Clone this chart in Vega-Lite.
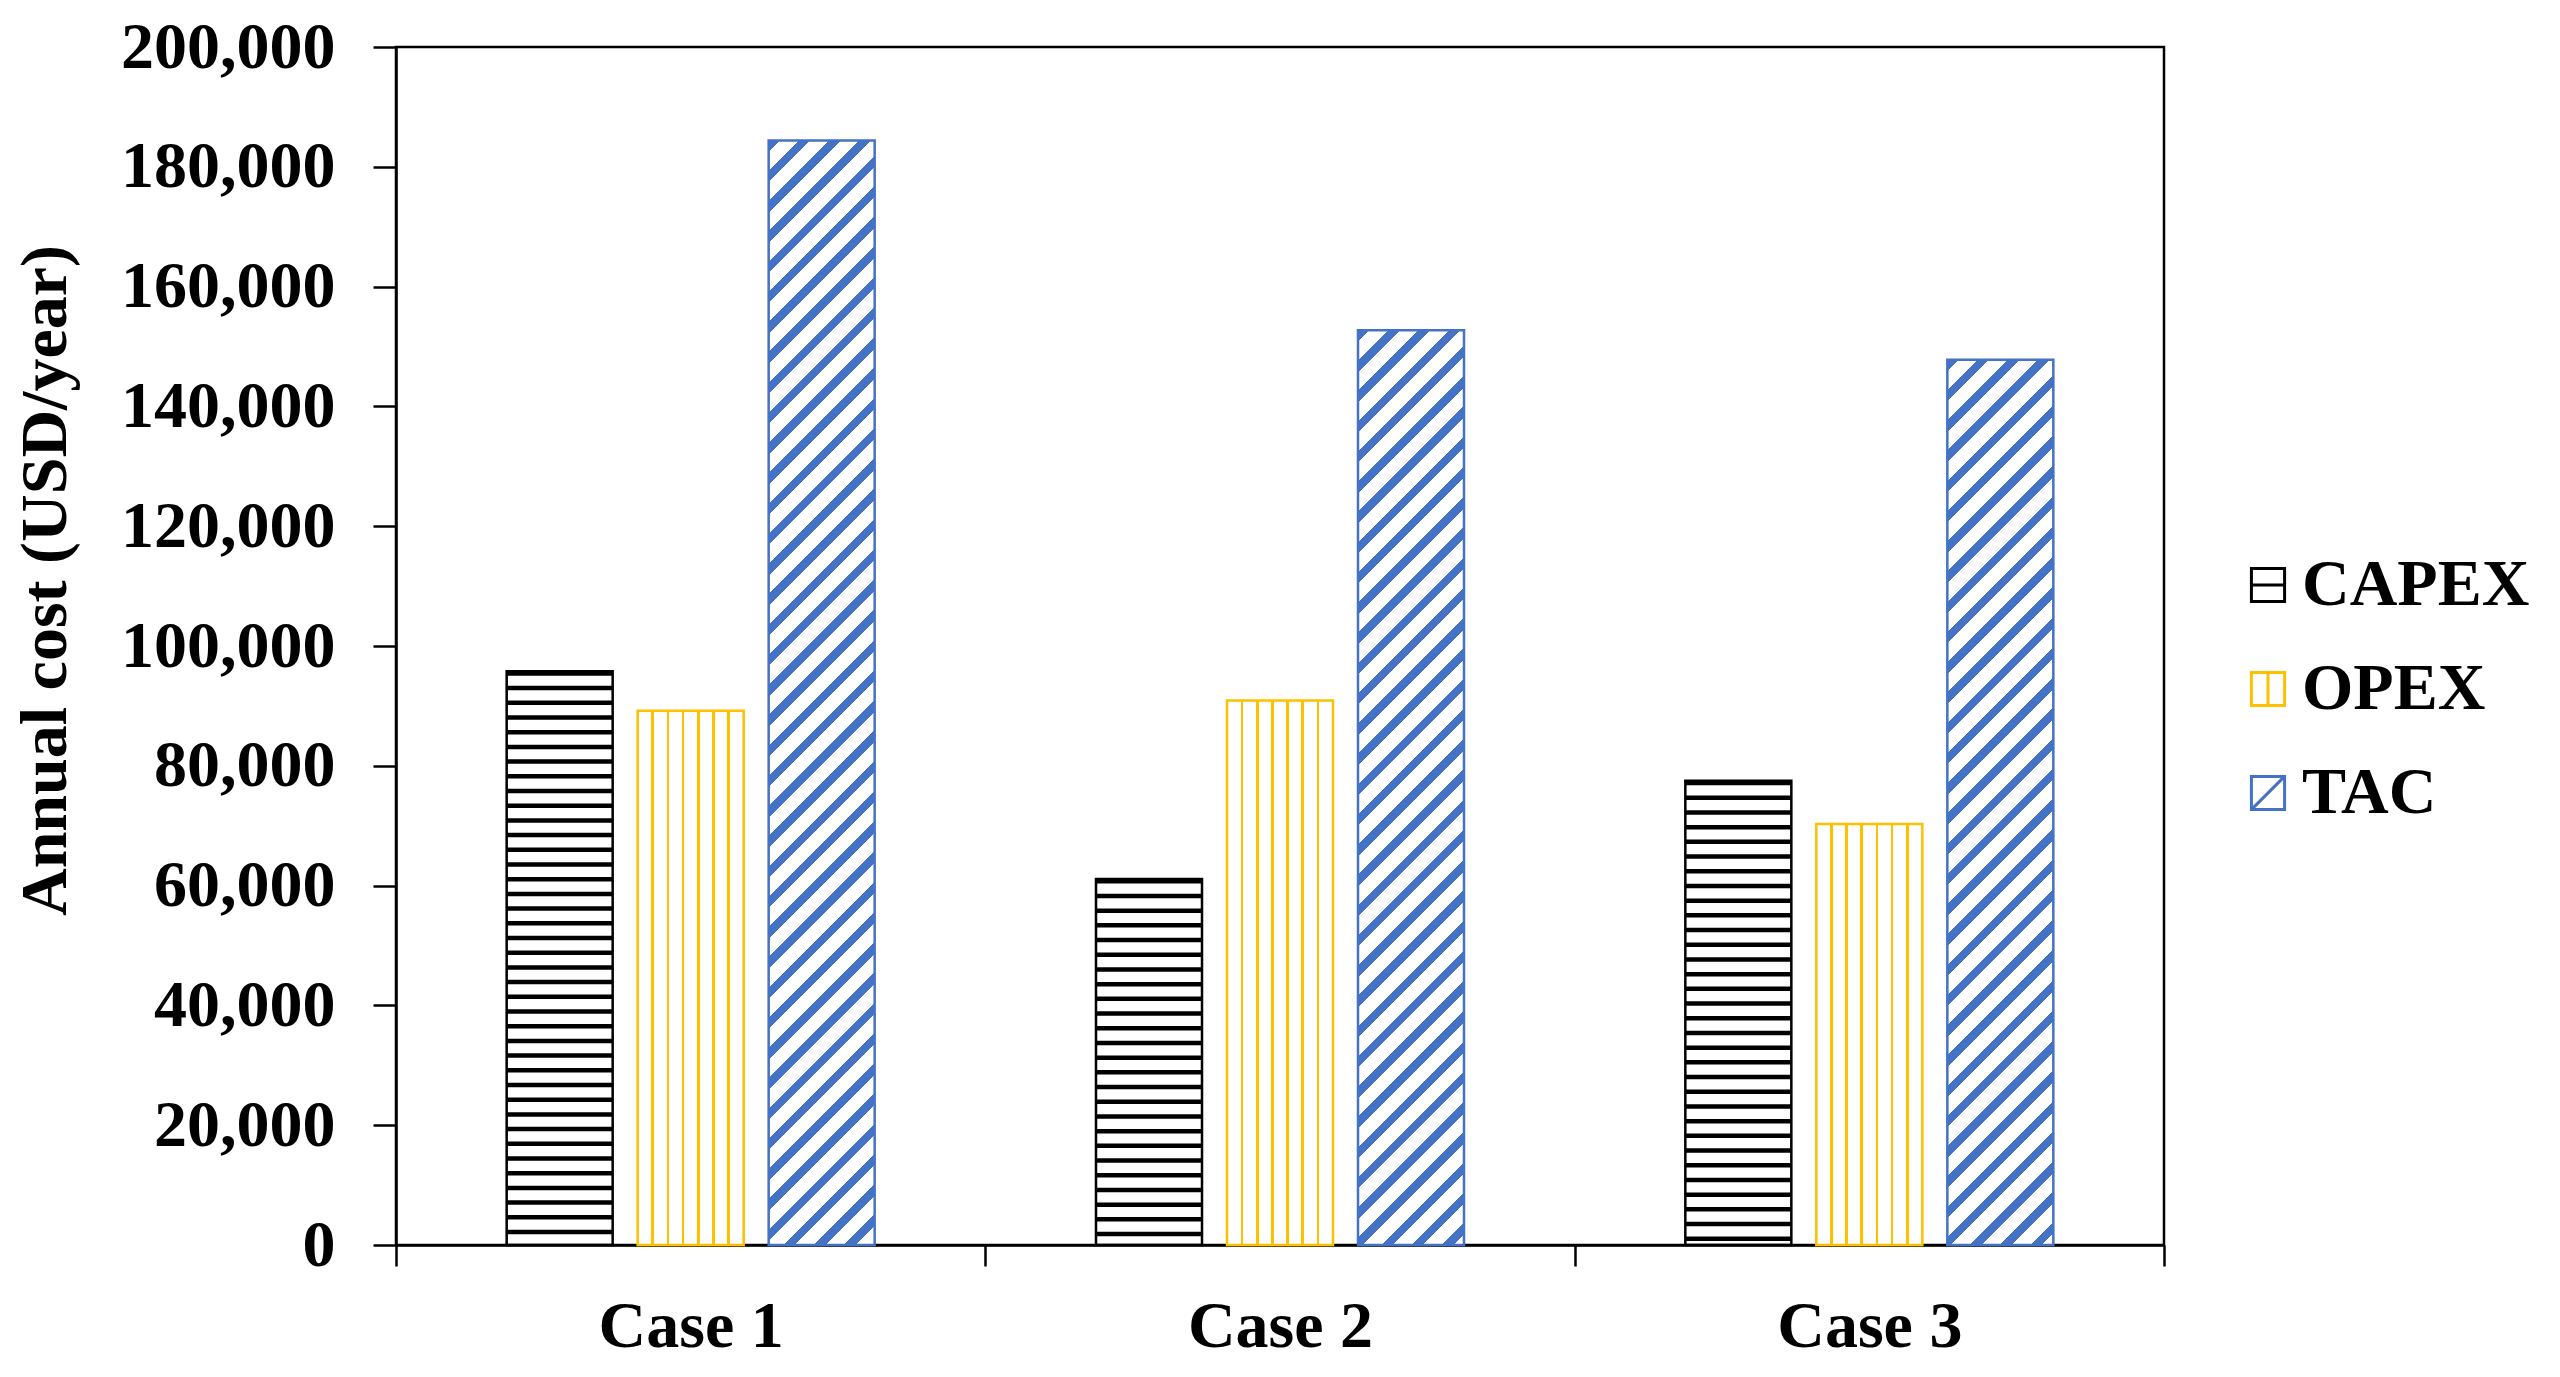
{
  "$schema": "https://vega.github.io/schema/vega-lite/v6.json",
  "autosize": {"type": "none"},
  "padding": {"left": 396, "top": 47, "right": 396, "bottom": 132},
  "width": 1768,
  "height": 1198,
  "background": "white",
  "data": {
    "values": [
      {"case": "Case 1", "series": "CAPEX", "value": 95800},
      {"case": "Case 1", "series": "OPEX", "value": 89200},
      {"case": "Case 1", "series": "TAC", "value": 184400},
      {"case": "Case 2", "series": "CAPEX", "value": 61100},
      {"case": "Case 2", "series": "OPEX", "value": 90900},
      {"case": "Case 2", "series": "TAC", "value": 152700},
      {"case": "Case 3", "series": "CAPEX", "value": 77500},
      {"case": "Case 3", "series": "OPEX", "value": 70300},
      {"case": "Case 3", "series": "TAC", "value": 147800}
    ]
  },
  "encoding": {
    "x": {
      "field": "case", "type": "nominal",
      "scale": {"paddingInner": 0, "paddingOuter": 0},
      "axis": {"title": null, "labelAngle": 0, "tickBand": "extent", "tickSize": 21, "labelPadding": 80, "labelBaseline": "alphabetic"}
    },
    "xOffset": {
      "field": "series", "type": "nominal",
      "scale": {"domain": ["CAPEX", "OPEX", "TAC"], "paddingInner": 0.19084, "paddingOuter": 0.84479}
    },
    "y": {
      "field": "value", "type": "quantitative",
      "scale": {"domain": [0, 200000], "nice": false},
      "axis": {
        "title": "Annual cost (USD/year)",
        "values": [0, 20000, 40000, 60000, 80000, 100000, 120000, 140000, 160000, 180000, 200000],
        "format": ",d",
        "tickSize": 23, "labelPadding": 38,
        "titleAngle": -90, "titleX": -331, "titleY": 533, "titleAlign": "center", "titleBaseline": "alphabetic"
      }
    }
  },
  "layer": [
    {
      "transform": [{"filter": "datum.series === 'CAPEX'"}],
      "mark": {"type": "rule", "color": "black", "strokeWidth": 106, "strokeDash": [4.5, 10.2], "strokeCap": "butt"},
      "encoding": {"y2": {"datum": 0}}
    },
    {
      "transform": [{"filter": "datum.series === 'CAPEX'"}],
      "mark": {"type": "bar", "fill": "transparent", "stroke": "black", "strokeWidth": 2.5}
    },
    {
      "transform": [{"filter": "datum.series === 'OPEX'"}],
      "mark": {
        "type": "bar", "stroke": "#FFC000", "strokeWidth": 2.5,
        "fill": {"gradient": "linear", "x1": 0, "y1": 0, "x2": 1, "y2": 0, "stops": [
          {"offset": 0, "color": "#fff"}, {"offset": 0.1304, "color": "#fff"}, {"offset": 0.1304, "color": "#FFC000"}, {"offset": 0.1554, "color": "#FFC000"}, {"offset": 0.1554, "color": "#fff"},
          {"offset": 0.2732, "color": "#fff"}, {"offset": 0.2732, "color": "#FFC000"}, {"offset": 0.2982, "color": "#FFC000"}, {"offset": 0.2982, "color": "#fff"},
          {"offset": 0.4161, "color": "#fff"}, {"offset": 0.4161, "color": "#FFC000"}, {"offset": 0.4411, "color": "#FFC000"}, {"offset": 0.4411, "color": "#fff"},
          {"offset": 0.5589, "color": "#fff"}, {"offset": 0.5589, "color": "#FFC000"}, {"offset": 0.5839, "color": "#FFC000"}, {"offset": 0.5839, "color": "#fff"},
          {"offset": 0.7018, "color": "#fff"}, {"offset": 0.7018, "color": "#FFC000"}, {"offset": 0.7268, "color": "#FFC000"}, {"offset": 0.7268, "color": "#fff"},
          {"offset": 0.8446, "color": "#fff"}, {"offset": 0.8446, "color": "#FFC000"}, {"offset": 0.8696, "color": "#FFC000"}, {"offset": 0.8696, "color": "#fff"},
          {"offset": 1, "color": "#fff"}
        ]}
      }
    },
    {
      "transform": [{"filter": "datum.series === 'TAC' && datum.case === 'Case 1'"}],
      "mark": {
        "type": "bar", "stroke": "#4472C4", "strokeWidth": 2.5,
        "fill": {"gradient": "linear", "x1": 0, "y1": 0, "x2": 0.104167, "y2": 1.085462, "stops": [
{"offset":0,"color":"#4472C4"},{"offset":0.0095,"color":"#4472C4"},{"offset":0.0095,"color":"#fff"},{"offset":0.025,"color":"#fff"},
{"offset":0.025,"color":"#4472C4"},{"offset":0.0345,"color":"#4472C4"},{"offset":0.0345,"color":"#fff"},{"offset":0.05,"color":"#fff"},
{"offset":0.05,"color":"#4472C4"},{"offset":0.0595,"color":"#4472C4"},{"offset":0.0595,"color":"#fff"},{"offset":0.075,"color":"#fff"},
{"offset":0.075,"color":"#4472C4"},{"offset":0.0845,"color":"#4472C4"},{"offset":0.0845,"color":"#fff"},{"offset":0.1,"color":"#fff"},
{"offset":0.1,"color":"#4472C4"},{"offset":0.1095,"color":"#4472C4"},{"offset":0.1095,"color":"#fff"},{"offset":0.125,"color":"#fff"},
{"offset":0.125,"color":"#4472C4"},{"offset":0.1345,"color":"#4472C4"},{"offset":0.1345,"color":"#fff"},{"offset":0.15,"color":"#fff"},
{"offset":0.15,"color":"#4472C4"},{"offset":0.1595,"color":"#4472C4"},{"offset":0.1595,"color":"#fff"},{"offset":0.175,"color":"#fff"},
{"offset":0.175,"color":"#4472C4"},{"offset":0.1845,"color":"#4472C4"},{"offset":0.1845,"color":"#fff"},{"offset":0.2,"color":"#fff"},
{"offset":0.2,"color":"#4472C4"},{"offset":0.2095,"color":"#4472C4"},{"offset":0.2095,"color":"#fff"},{"offset":0.225,"color":"#fff"},
{"offset":0.225,"color":"#4472C4"},{"offset":0.2345,"color":"#4472C4"},{"offset":0.2345,"color":"#fff"},{"offset":0.25,"color":"#fff"},
{"offset":0.25,"color":"#4472C4"},{"offset":0.2595,"color":"#4472C4"},{"offset":0.2595,"color":"#fff"},{"offset":0.275,"color":"#fff"},
{"offset":0.275,"color":"#4472C4"},{"offset":0.2845,"color":"#4472C4"},{"offset":0.2845,"color":"#fff"},{"offset":0.3,"color":"#fff"},
{"offset":0.3,"color":"#4472C4"},{"offset":0.3095,"color":"#4472C4"},{"offset":0.3095,"color":"#fff"},{"offset":0.325,"color":"#fff"},
{"offset":0.325,"color":"#4472C4"},{"offset":0.3345,"color":"#4472C4"},{"offset":0.3345,"color":"#fff"},{"offset":0.35,"color":"#fff"},
{"offset":0.35,"color":"#4472C4"},{"offset":0.3595,"color":"#4472C4"},{"offset":0.3595,"color":"#fff"},{"offset":0.375,"color":"#fff"},
{"offset":0.375,"color":"#4472C4"},{"offset":0.3845,"color":"#4472C4"},{"offset":0.3845,"color":"#fff"},{"offset":0.4,"color":"#fff"},
{"offset":0.4,"color":"#4472C4"},{"offset":0.4095,"color":"#4472C4"},{"offset":0.4095,"color":"#fff"},{"offset":0.425,"color":"#fff"},
{"offset":0.425,"color":"#4472C4"},{"offset":0.4345,"color":"#4472C4"},{"offset":0.4345,"color":"#fff"},{"offset":0.45,"color":"#fff"},
{"offset":0.45,"color":"#4472C4"},{"offset":0.4595,"color":"#4472C4"},{"offset":0.4595,"color":"#fff"},{"offset":0.475,"color":"#fff"},
{"offset":0.475,"color":"#4472C4"},{"offset":0.4845,"color":"#4472C4"},{"offset":0.4845,"color":"#fff"},{"offset":0.5,"color":"#fff"},
{"offset":0.5,"color":"#4472C4"},{"offset":0.5095,"color":"#4472C4"},{"offset":0.5095,"color":"#fff"},{"offset":0.525,"color":"#fff"},
{"offset":0.525,"color":"#4472C4"},{"offset":0.5345,"color":"#4472C4"},{"offset":0.5345,"color":"#fff"},{"offset":0.55,"color":"#fff"},
{"offset":0.55,"color":"#4472C4"},{"offset":0.5595,"color":"#4472C4"},{"offset":0.5595,"color":"#fff"},{"offset":0.575,"color":"#fff"},
{"offset":0.575,"color":"#4472C4"},{"offset":0.5845,"color":"#4472C4"},{"offset":0.5845,"color":"#fff"},{"offset":0.6,"color":"#fff"},
{"offset":0.6,"color":"#4472C4"},{"offset":0.6095,"color":"#4472C4"},{"offset":0.6095,"color":"#fff"},{"offset":0.625,"color":"#fff"},
{"offset":0.625,"color":"#4472C4"},{"offset":0.6345,"color":"#4472C4"},{"offset":0.6345,"color":"#fff"},{"offset":0.65,"color":"#fff"},
{"offset":0.65,"color":"#4472C4"},{"offset":0.6595,"color":"#4472C4"},{"offset":0.6595,"color":"#fff"},{"offset":0.675,"color":"#fff"},
{"offset":0.675,"color":"#4472C4"},{"offset":0.6845,"color":"#4472C4"},{"offset":0.6845,"color":"#fff"},{"offset":0.7,"color":"#fff"},
{"offset":0.7,"color":"#4472C4"},{"offset":0.7095,"color":"#4472C4"},{"offset":0.7095,"color":"#fff"},{"offset":0.725,"color":"#fff"},
{"offset":0.725,"color":"#4472C4"},{"offset":0.7345,"color":"#4472C4"},{"offset":0.7345,"color":"#fff"},{"offset":0.75,"color":"#fff"},
{"offset":0.75,"color":"#4472C4"},{"offset":0.7595,"color":"#4472C4"},{"offset":0.7595,"color":"#fff"},{"offset":0.775,"color":"#fff"},
{"offset":0.775,"color":"#4472C4"},{"offset":0.7845,"color":"#4472C4"},{"offset":0.7845,"color":"#fff"},{"offset":0.8,"color":"#fff"},
{"offset":0.8,"color":"#4472C4"},{"offset":0.8095,"color":"#4472C4"},{"offset":0.8095,"color":"#fff"},{"offset":0.825,"color":"#fff"},
{"offset":0.825,"color":"#4472C4"},{"offset":0.8345,"color":"#4472C4"},{"offset":0.8345,"color":"#fff"},{"offset":0.85,"color":"#fff"},
{"offset":0.85,"color":"#4472C4"},{"offset":0.8595,"color":"#4472C4"},{"offset":0.8595,"color":"#fff"},{"offset":0.875,"color":"#fff"},
{"offset":0.875,"color":"#4472C4"},{"offset":0.8845,"color":"#4472C4"},{"offset":0.8845,"color":"#fff"},{"offset":0.9,"color":"#fff"},
{"offset":0.9,"color":"#4472C4"},{"offset":0.9095,"color":"#4472C4"},{"offset":0.9095,"color":"#fff"},{"offset":0.925,"color":"#fff"},
{"offset":0.925,"color":"#4472C4"},{"offset":0.9345,"color":"#4472C4"},{"offset":0.9345,"color":"#fff"},{"offset":0.95,"color":"#fff"},
{"offset":0.95,"color":"#4472C4"},{"offset":0.9595,"color":"#4472C4"},{"offset":0.9595,"color":"#fff"},{"offset":0.975,"color":"#fff"},
{"offset":0.975,"color":"#4472C4"},{"offset":0.9845,"color":"#4472C4"},{"offset":0.9845,"color":"#fff"},{"offset":1,"color":"#fff"}
        ]}
      }
    },
    {
      "transform": [{"filter": "datum.series === 'TAC' && datum.case === 'Case 2'"}],
      "mark": {
        "type": "bar", "stroke": "#4472C4", "strokeWidth": 2.5,
        "fill": {"gradient": "linear", "x1": 0, "y1": 0, "x2": 0.151275, "y2": 1.30535, "stops": [
{"offset":0,"color":"#4472C4"},{"offset":0.0095,"color":"#4472C4"},{"offset":0.0095,"color":"#fff"},{"offset":0.025,"color":"#fff"},
{"offset":0.025,"color":"#4472C4"},{"offset":0.0345,"color":"#4472C4"},{"offset":0.0345,"color":"#fff"},{"offset":0.05,"color":"#fff"},
{"offset":0.05,"color":"#4472C4"},{"offset":0.0595,"color":"#4472C4"},{"offset":0.0595,"color":"#fff"},{"offset":0.075,"color":"#fff"},
{"offset":0.075,"color":"#4472C4"},{"offset":0.0845,"color":"#4472C4"},{"offset":0.0845,"color":"#fff"},{"offset":0.1,"color":"#fff"},
{"offset":0.1,"color":"#4472C4"},{"offset":0.1095,"color":"#4472C4"},{"offset":0.1095,"color":"#fff"},{"offset":0.125,"color":"#fff"},
{"offset":0.125,"color":"#4472C4"},{"offset":0.1345,"color":"#4472C4"},{"offset":0.1345,"color":"#fff"},{"offset":0.15,"color":"#fff"},
{"offset":0.15,"color":"#4472C4"},{"offset":0.1595,"color":"#4472C4"},{"offset":0.1595,"color":"#fff"},{"offset":0.175,"color":"#fff"},
{"offset":0.175,"color":"#4472C4"},{"offset":0.1845,"color":"#4472C4"},{"offset":0.1845,"color":"#fff"},{"offset":0.2,"color":"#fff"},
{"offset":0.2,"color":"#4472C4"},{"offset":0.2095,"color":"#4472C4"},{"offset":0.2095,"color":"#fff"},{"offset":0.225,"color":"#fff"},
{"offset":0.225,"color":"#4472C4"},{"offset":0.2345,"color":"#4472C4"},{"offset":0.2345,"color":"#fff"},{"offset":0.25,"color":"#fff"},
{"offset":0.25,"color":"#4472C4"},{"offset":0.2595,"color":"#4472C4"},{"offset":0.2595,"color":"#fff"},{"offset":0.275,"color":"#fff"},
{"offset":0.275,"color":"#4472C4"},{"offset":0.2845,"color":"#4472C4"},{"offset":0.2845,"color":"#fff"},{"offset":0.3,"color":"#fff"},
{"offset":0.3,"color":"#4472C4"},{"offset":0.3095,"color":"#4472C4"},{"offset":0.3095,"color":"#fff"},{"offset":0.325,"color":"#fff"},
{"offset":0.325,"color":"#4472C4"},{"offset":0.3345,"color":"#4472C4"},{"offset":0.3345,"color":"#fff"},{"offset":0.35,"color":"#fff"},
{"offset":0.35,"color":"#4472C4"},{"offset":0.3595,"color":"#4472C4"},{"offset":0.3595,"color":"#fff"},{"offset":0.375,"color":"#fff"},
{"offset":0.375,"color":"#4472C4"},{"offset":0.3845,"color":"#4472C4"},{"offset":0.3845,"color":"#fff"},{"offset":0.4,"color":"#fff"},
{"offset":0.4,"color":"#4472C4"},{"offset":0.4095,"color":"#4472C4"},{"offset":0.4095,"color":"#fff"},{"offset":0.425,"color":"#fff"},
{"offset":0.425,"color":"#4472C4"},{"offset":0.4345,"color":"#4472C4"},{"offset":0.4345,"color":"#fff"},{"offset":0.45,"color":"#fff"},
{"offset":0.45,"color":"#4472C4"},{"offset":0.4595,"color":"#4472C4"},{"offset":0.4595,"color":"#fff"},{"offset":0.475,"color":"#fff"},
{"offset":0.475,"color":"#4472C4"},{"offset":0.4845,"color":"#4472C4"},{"offset":0.4845,"color":"#fff"},{"offset":0.5,"color":"#fff"},
{"offset":0.5,"color":"#4472C4"},{"offset":0.5095,"color":"#4472C4"},{"offset":0.5095,"color":"#fff"},{"offset":0.525,"color":"#fff"},
{"offset":0.525,"color":"#4472C4"},{"offset":0.5345,"color":"#4472C4"},{"offset":0.5345,"color":"#fff"},{"offset":0.55,"color":"#fff"},
{"offset":0.55,"color":"#4472C4"},{"offset":0.5595,"color":"#4472C4"},{"offset":0.5595,"color":"#fff"},{"offset":0.575,"color":"#fff"},
{"offset":0.575,"color":"#4472C4"},{"offset":0.5845,"color":"#4472C4"},{"offset":0.5845,"color":"#fff"},{"offset":0.6,"color":"#fff"},
{"offset":0.6,"color":"#4472C4"},{"offset":0.6095,"color":"#4472C4"},{"offset":0.6095,"color":"#fff"},{"offset":0.625,"color":"#fff"},
{"offset":0.625,"color":"#4472C4"},{"offset":0.6345,"color":"#4472C4"},{"offset":0.6345,"color":"#fff"},{"offset":0.65,"color":"#fff"},
{"offset":0.65,"color":"#4472C4"},{"offset":0.6595,"color":"#4472C4"},{"offset":0.6595,"color":"#fff"},{"offset":0.675,"color":"#fff"},
{"offset":0.675,"color":"#4472C4"},{"offset":0.6845,"color":"#4472C4"},{"offset":0.6845,"color":"#fff"},{"offset":0.7,"color":"#fff"},
{"offset":0.7,"color":"#4472C4"},{"offset":0.7095,"color":"#4472C4"},{"offset":0.7095,"color":"#fff"},{"offset":0.725,"color":"#fff"},
{"offset":0.725,"color":"#4472C4"},{"offset":0.7345,"color":"#4472C4"},{"offset":0.7345,"color":"#fff"},{"offset":0.75,"color":"#fff"},
{"offset":0.75,"color":"#4472C4"},{"offset":0.7595,"color":"#4472C4"},{"offset":0.7595,"color":"#fff"},{"offset":0.775,"color":"#fff"},
{"offset":0.775,"color":"#4472C4"},{"offset":0.7845,"color":"#4472C4"},{"offset":0.7845,"color":"#fff"},{"offset":0.8,"color":"#fff"},
{"offset":0.8,"color":"#4472C4"},{"offset":0.8095,"color":"#4472C4"},{"offset":0.8095,"color":"#fff"},{"offset":0.825,"color":"#fff"},
{"offset":0.825,"color":"#4472C4"},{"offset":0.8345,"color":"#4472C4"},{"offset":0.8345,"color":"#fff"},{"offset":0.85,"color":"#fff"},
{"offset":0.85,"color":"#4472C4"},{"offset":0.8595,"color":"#4472C4"},{"offset":0.8595,"color":"#fff"},{"offset":0.875,"color":"#fff"},
{"offset":0.875,"color":"#4472C4"},{"offset":0.8845,"color":"#4472C4"},{"offset":0.8845,"color":"#fff"},{"offset":0.9,"color":"#fff"},
{"offset":0.9,"color":"#4472C4"},{"offset":0.9095,"color":"#4472C4"},{"offset":0.9095,"color":"#fff"},{"offset":0.925,"color":"#fff"},
{"offset":0.925,"color":"#4472C4"},{"offset":0.9345,"color":"#4472C4"},{"offset":0.9345,"color":"#fff"},{"offset":0.95,"color":"#fff"},
{"offset":0.95,"color":"#4472C4"},{"offset":0.9595,"color":"#4472C4"},{"offset":0.9595,"color":"#fff"},{"offset":0.975,"color":"#fff"},
{"offset":0.975,"color":"#4472C4"},{"offset":0.9845,"color":"#4472C4"},{"offset":0.9845,"color":"#fff"},{"offset":1,"color":"#fff"}
        ]}
      }
    },
    {
      "transform": [{"filter": "datum.series === 'TAC' && datum.case === 'Case 3'"}],
      "mark": {
        "type": "bar", "stroke": "#4472C4", "strokeWidth": 2.5,
        "fill": {"gradient": "linear", "x1": 0, "y1": 0, "x2": 0.161328, "y2": 1.347422, "stops": [
{"offset":0,"color":"#4472C4"},{"offset":0.0095,"color":"#4472C4"},{"offset":0.0095,"color":"#fff"},{"offset":0.025,"color":"#fff"},
{"offset":0.025,"color":"#4472C4"},{"offset":0.0345,"color":"#4472C4"},{"offset":0.0345,"color":"#fff"},{"offset":0.05,"color":"#fff"},
{"offset":0.05,"color":"#4472C4"},{"offset":0.0595,"color":"#4472C4"},{"offset":0.0595,"color":"#fff"},{"offset":0.075,"color":"#fff"},
{"offset":0.075,"color":"#4472C4"},{"offset":0.0845,"color":"#4472C4"},{"offset":0.0845,"color":"#fff"},{"offset":0.1,"color":"#fff"},
{"offset":0.1,"color":"#4472C4"},{"offset":0.1095,"color":"#4472C4"},{"offset":0.1095,"color":"#fff"},{"offset":0.125,"color":"#fff"},
{"offset":0.125,"color":"#4472C4"},{"offset":0.1345,"color":"#4472C4"},{"offset":0.1345,"color":"#fff"},{"offset":0.15,"color":"#fff"},
{"offset":0.15,"color":"#4472C4"},{"offset":0.1595,"color":"#4472C4"},{"offset":0.1595,"color":"#fff"},{"offset":0.175,"color":"#fff"},
{"offset":0.175,"color":"#4472C4"},{"offset":0.1845,"color":"#4472C4"},{"offset":0.1845,"color":"#fff"},{"offset":0.2,"color":"#fff"},
{"offset":0.2,"color":"#4472C4"},{"offset":0.2095,"color":"#4472C4"},{"offset":0.2095,"color":"#fff"},{"offset":0.225,"color":"#fff"},
{"offset":0.225,"color":"#4472C4"},{"offset":0.2345,"color":"#4472C4"},{"offset":0.2345,"color":"#fff"},{"offset":0.25,"color":"#fff"},
{"offset":0.25,"color":"#4472C4"},{"offset":0.2595,"color":"#4472C4"},{"offset":0.2595,"color":"#fff"},{"offset":0.275,"color":"#fff"},
{"offset":0.275,"color":"#4472C4"},{"offset":0.2845,"color":"#4472C4"},{"offset":0.2845,"color":"#fff"},{"offset":0.3,"color":"#fff"},
{"offset":0.3,"color":"#4472C4"},{"offset":0.3095,"color":"#4472C4"},{"offset":0.3095,"color":"#fff"},{"offset":0.325,"color":"#fff"},
{"offset":0.325,"color":"#4472C4"},{"offset":0.3345,"color":"#4472C4"},{"offset":0.3345,"color":"#fff"},{"offset":0.35,"color":"#fff"},
{"offset":0.35,"color":"#4472C4"},{"offset":0.3595,"color":"#4472C4"},{"offset":0.3595,"color":"#fff"},{"offset":0.375,"color":"#fff"},
{"offset":0.375,"color":"#4472C4"},{"offset":0.3845,"color":"#4472C4"},{"offset":0.3845,"color":"#fff"},{"offset":0.4,"color":"#fff"},
{"offset":0.4,"color":"#4472C4"},{"offset":0.4095,"color":"#4472C4"},{"offset":0.4095,"color":"#fff"},{"offset":0.425,"color":"#fff"},
{"offset":0.425,"color":"#4472C4"},{"offset":0.4345,"color":"#4472C4"},{"offset":0.4345,"color":"#fff"},{"offset":0.45,"color":"#fff"},
{"offset":0.45,"color":"#4472C4"},{"offset":0.4595,"color":"#4472C4"},{"offset":0.4595,"color":"#fff"},{"offset":0.475,"color":"#fff"},
{"offset":0.475,"color":"#4472C4"},{"offset":0.4845,"color":"#4472C4"},{"offset":0.4845,"color":"#fff"},{"offset":0.5,"color":"#fff"},
{"offset":0.5,"color":"#4472C4"},{"offset":0.5095,"color":"#4472C4"},{"offset":0.5095,"color":"#fff"},{"offset":0.525,"color":"#fff"},
{"offset":0.525,"color":"#4472C4"},{"offset":0.5345,"color":"#4472C4"},{"offset":0.5345,"color":"#fff"},{"offset":0.55,"color":"#fff"},
{"offset":0.55,"color":"#4472C4"},{"offset":0.5595,"color":"#4472C4"},{"offset":0.5595,"color":"#fff"},{"offset":0.575,"color":"#fff"},
{"offset":0.575,"color":"#4472C4"},{"offset":0.5845,"color":"#4472C4"},{"offset":0.5845,"color":"#fff"},{"offset":0.6,"color":"#fff"},
{"offset":0.6,"color":"#4472C4"},{"offset":0.6095,"color":"#4472C4"},{"offset":0.6095,"color":"#fff"},{"offset":0.625,"color":"#fff"},
{"offset":0.625,"color":"#4472C4"},{"offset":0.6345,"color":"#4472C4"},{"offset":0.6345,"color":"#fff"},{"offset":0.65,"color":"#fff"},
{"offset":0.65,"color":"#4472C4"},{"offset":0.6595,"color":"#4472C4"},{"offset":0.6595,"color":"#fff"},{"offset":0.675,"color":"#fff"},
{"offset":0.675,"color":"#4472C4"},{"offset":0.6845,"color":"#4472C4"},{"offset":0.6845,"color":"#fff"},{"offset":0.7,"color":"#fff"},
{"offset":0.7,"color":"#4472C4"},{"offset":0.7095,"color":"#4472C4"},{"offset":0.7095,"color":"#fff"},{"offset":0.725,"color":"#fff"},
{"offset":0.725,"color":"#4472C4"},{"offset":0.7345,"color":"#4472C4"},{"offset":0.7345,"color":"#fff"},{"offset":0.75,"color":"#fff"},
{"offset":0.75,"color":"#4472C4"},{"offset":0.7595,"color":"#4472C4"},{"offset":0.7595,"color":"#fff"},{"offset":0.775,"color":"#fff"},
{"offset":0.775,"color":"#4472C4"},{"offset":0.7845,"color":"#4472C4"},{"offset":0.7845,"color":"#fff"},{"offset":0.8,"color":"#fff"},
{"offset":0.8,"color":"#4472C4"},{"offset":0.8095,"color":"#4472C4"},{"offset":0.8095,"color":"#fff"},{"offset":0.825,"color":"#fff"},
{"offset":0.825,"color":"#4472C4"},{"offset":0.8345,"color":"#4472C4"},{"offset":0.8345,"color":"#fff"},{"offset":0.85,"color":"#fff"},
{"offset":0.85,"color":"#4472C4"},{"offset":0.8595,"color":"#4472C4"},{"offset":0.8595,"color":"#fff"},{"offset":0.875,"color":"#fff"},
{"offset":0.875,"color":"#4472C4"},{"offset":0.8845,"color":"#4472C4"},{"offset":0.8845,"color":"#fff"},{"offset":0.9,"color":"#fff"},
{"offset":0.9,"color":"#4472C4"},{"offset":0.9095,"color":"#4472C4"},{"offset":0.9095,"color":"#fff"},{"offset":0.925,"color":"#fff"},
{"offset":0.925,"color":"#4472C4"},{"offset":0.9345,"color":"#4472C4"},{"offset":0.9345,"color":"#fff"},{"offset":0.95,"color":"#fff"},
{"offset":0.95,"color":"#4472C4"},{"offset":0.9595,"color":"#4472C4"},{"offset":0.9595,"color":"#fff"},{"offset":0.975,"color":"#fff"},
{"offset":0.975,"color":"#4472C4"},{"offset":0.9845,"color":"#4472C4"},{"offset":0.9845,"color":"#fff"},{"offset":1,"color":"#fff"}
        ]}
      }
    },
    {
      "mark": {"type": "point", "filled": false, "opacity": 0, "strokeWidth": 3},
      "encoding": {
        "stroke": {
          "field": "series", "type": "nominal",
          "scale": {"domain": ["CAPEX", "OPEX", "TAC"], "range": ["black", "#FFC000", "#4472C4"]},
          "legend": {"title": null, "orient": "none", "legendX": 1839, "legendY": 505, "padding": 0, "symbolSize": 1100, "symbolStrokeWidth": 3, "symbolOpacity": 1, "labelFontSize": 66, "labelFont": "Liberation Serif", "labelFontWeight": "bold", "labelColor": "black", "labelOffset": 1, "labelLimit": 0, "rowPadding": 38}
        },
        "shape": {
          "field": "series", "type": "nominal",
          "scale": {"domain": ["CAPEX", "OPEX", "TAC"], "range": ["M-1,-1H1V1H-1ZM-1,0H1", "M-1,-1H1V1H-1ZM0,-1V1", "M-1,-1H1V1H-1ZM-1,1L1,-1"]},
          "legend": {"title": null, "orient": "none", "legendX": 1839, "legendY": 505, "padding": 0, "symbolSize": 1100, "symbolStrokeWidth": 3, "symbolOpacity": 1, "labelFontSize": 66, "labelFont": "Liberation Serif", "labelFontWeight": "bold", "labelColor": "black", "labelOffset": 1, "labelLimit": 0, "rowPadding": 38}
        }
      }
    }
  ],
  "config": {
    "view": {"stroke": "black", "strokeWidth": 2.5},
    "axis": {
      "grid": false,
      "domainColor": "black", "domainWidth": 2.5,
      "tickColor": "black", "tickWidth": 2.5,
      "labelFont": "Liberation Serif", "labelFontSize": 66, "labelFontWeight": "bold", "labelColor": "black", "labelLimit": 0,
      "titleFont": "Liberation Serif", "titleFontSize": 66, "titleFontWeight": "bold", "titleColor": "black"
    },
    "legend": {"labelLimit": 0}
  }
}
